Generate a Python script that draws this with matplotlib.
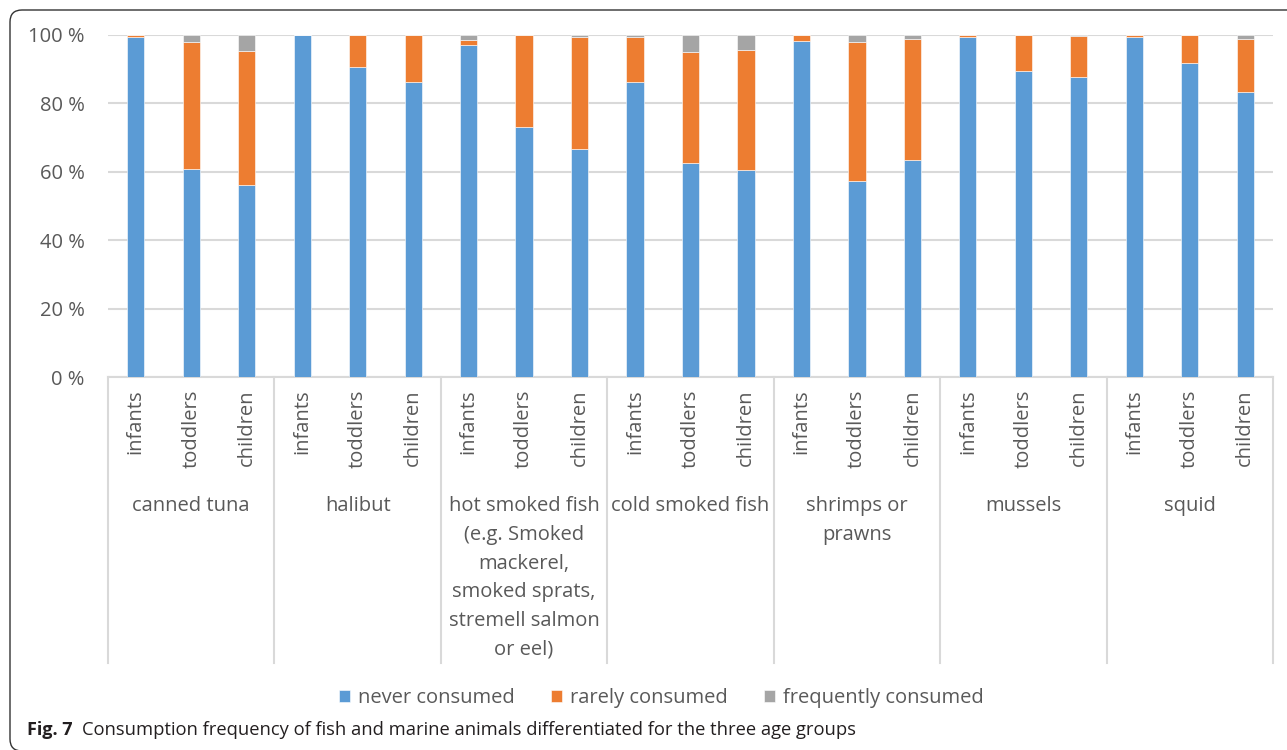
import numpy as np
import matplotlib.pyplot as plt
from matplotlib.path import Path
from matplotlib.patches import PathPatch
from matplotlib.transforms import blended_transform_factory

plt.rcParams['font.family'] = ['Open Sans', 'DejaVu Sans']

# Fish types and age groups (three bars per fish type)
fish = ['canned tuna', 'halibut',
        'hot smoked fish\n(e.g. Smoked\nmackerel,\nsmoked sprats,\nstremell salmon\nor eel)',
        'cold smoked fish', 'shrimps or\nprawns', 'mussels', 'squid']
ages = ['infants', 'toddlers', 'children']

# Shares in percent, ordered fish by fish, then infants / toddlers / children
never = [99.3, 60.7, 56.1,
         100.0, 90.5, 86.2,
         97.0, 73.0, 66.7,
         86.2, 62.6, 60.5,
         98.1, 57.4, 63.4,
         99.5, 89.4, 87.8,
         99.5, 91.7, 83.2]
rarely = [0.7, 37.2, 39.2,
          0.0, 9.5, 13.8,
          1.6, 27.0, 32.8,
          13.1, 32.3, 35.1,
          1.9, 40.6, 35.3,
          0.5, 10.6, 12.0,
          0.5, 8.3, 15.5]
frequently = [0.0, 2.1, 4.7,
              0.0, 0.0, 0.0,
              1.4, 0.0, 0.5,
              0.7, 5.1, 4.4,
              0.0, 2.0, 1.3,
              0.0, 0.0, 0.2,
              0.0, 0.0, 1.3]
series = ['never consumed', 'rarely consumed', 'frequently consumed']
colors = ['#5B9BD5', '#ED7D31', '#A5A5A5']

fig = plt.figure(figsize=(12.87, 7.5), dpi=100)
ax = fig.add_axes([108 / 1287, 1 - 377 / 750, 1165 / 1287, 342 / 750])

x = np.arange(len(never))
never = np.array(never)
rarely = np.array(rarely)
frequently = np.array(frequently)

bars = []
bottom = np.zeros(len(x))
for vals, col, name in zip([never, rarely, frequently], colors, series):
    b = ax.bar(x, vals, 0.31, bottom=bottom, color=col, edgecolor='white',
               linewidth=0.4, label=name, zorder=3)
    bars.append(b)
    bottom = bottom + vals

ax.set_xlim(-0.5, len(x) - 0.5)
ax.set_ylim(0, 100)
ax.set_yticks(np.arange(0, 101, 20))
ax.set_yticklabels([f'{v} %' for v in range(0, 101, 20)])
ax.yaxis.grid(True, color='#d9d9d9', linewidth=1.5, zorder=0)
for s in ['top', 'right', 'left']:
    ax.spines[s].set_visible(False)
ax.spines['bottom'].set_color('#d9d9d9')
ax.spines['bottom'].set_linewidth(1.5)
ax.tick_params(axis='y', length=0, pad=17, labelsize=14.5, labelcolor='#595959')

# age labels as rotated tick labels
ax.set_xticks(x)
ax.set_xticklabels(ages * len(fish), rotation=90)
ax.tick_params(axis='x', length=0, pad=9, labelsize=14.5, labelcolor='#595959')

# group separators and fish names below the axis
trans = blended_transform_factory(ax.transData, ax.transAxes)
for k in range(len(fish) + 1):
    ax.plot([3 * k - 0.5, 3 * k - 0.5], [0, -0.836], transform=trans,
            color='#d9d9d9', linewidth=1.5, clip_on=False)
for k, name in enumerate(fish):
    ax.text(3 * k + 1, -0.349, name, transform=trans, ha='center', va='top',
            fontsize=14.5, color='#595959', linespacing=1.58, multialignment='center')

fig.legend(handles=bars, labels=series, loc='center', ncol=3,
           bbox_to_anchor=(0.514, 1 - 698 / 750), frameon=False,
           fontsize=14.5, labelcolor='#595959', handlelength=0.55,
           handleheight=0.55, handletextpad=0.4, columnspacing=1.8)

# frame: left and top edges with rounded corners (in pixels)
r = 12
verts = [(10 + r, -1), (10, -1), (10, -1 + r),
         (10, 740 - r), (10, 740), (10 + r, 740),
         (1300, 740)]
codes = [Path.MOVETO, Path.CURVE3, Path.CURVE3,
         Path.LINETO, Path.CURVE3, Path.CURVE3,
         Path.LINETO]
fig.patches.append(PathPatch(Path(verts, codes), transform=None, fill=False,
                             edgecolor='#333333', linewidth=1.0))

# caption
t1 = fig.text(27 / 1287, 1 - 730 / 750, 'Fig. 7', fontsize=13,
              fontweight='bold', va='center', color='#231f20')
fig.canvas.draw()
bb = t1.get_window_extent()
fig.text((bb.x1 + 9) / 1287, 1 - 730 / 750,
         'Consumption frequency of fish and marine animals differentiated for the three age groups',
         fontsize=13.2, va='center', color='#231f20')

fig.savefig('out.png', dpi=100)
